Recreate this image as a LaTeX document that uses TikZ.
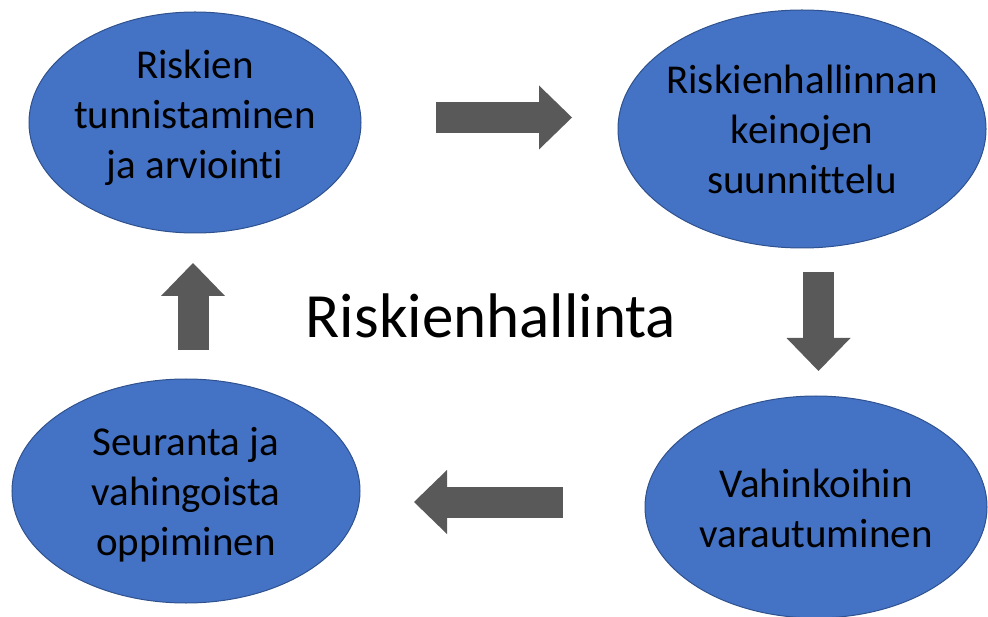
\documentclass[tikz,border=0pt]{standalone}
\usepackage{fontspec}
\setmainfont{Carlito}[Ligatures=NoCommon]
\usetikzlibrary{shapes.geometric, arrows.meta}
\definecolor{phaseblue}{HTML}{4472C4}
\definecolor{phaseedge}{HTML}{2F528F}
\definecolor{flowgray}{HTML}{595959}

\begin{document}
\begin{tikzpicture}[
  x=1pt, y=-1pt,
  phase/.style={ellipse, draw=phaseedge, line width=1pt, fill=phaseblue,
                inner sep=0pt},
  ptext/.style={align=center, text=black, inner sep=0pt,
                font=\fontsize{41}{50}\selectfont},
  htitle/.style={anchor=base, inner sep=0pt,
                 font=\fontsize{63}{70}\selectfont},
  flow/.style={draw=flowgray, line width=31pt,
               -{Triangle[length=33pt, width=64pt, line width=0pt]}},
]
\useasboundingbox (0,0) rectangle (988,617);

%% ===== PHASES =====

\node[phase, minimum width=332pt, minimum height=221pt,
      label={[ptext, yshift=5pt]center:{Riskien\\tunnistaminen\\ja arviointi}}]
    (tunnistus) at (195,122.5) {};

\node[phase, minimum width=368pt, minimum height=238pt,
      label={[ptext]center:{Riskienhallinnan\\keinojen\\suunnittelu}}]
    (suunnittelu) at (802,129) {};

\node[phase, minimum width=342pt, minimum height=222pt,
      label={[ptext, yshift=-1pt]center:{Vahinkoihin\\varautuminen}}]
    (varautuminen) at (816,507) {};

\node[phase, minimum width=348pt, minimum height=224pt,
      label={[ptext, yshift=-4pt]center:{Seuranta ja\\vahingoista\\oppiminen}}]
    (seuranta) at (186,491) {};

\node[htitle] (hallinta) at (491,338) {Riskienhallinta};

%% ===== ARROWS =====

\coordinate (ra) at (436,117.5);  \coordinate (rb) at (572,117.5);
\coordinate (da) at (818.5,272);  \coordinate (db) at (818.5,371);
\coordinate (la) at (563,502);    \coordinate (lb) at (414,502);
\coordinate (ua) at (193,350);    \coordinate (ub) at (193,263);

\draw[flow] (ra) -- (rb);
\draw[flow] (da) -- (db);
\draw[flow] (la) -- (lb);
\draw[flow] (ua) -- (ub);

\end{tikzpicture}
\end{document}
